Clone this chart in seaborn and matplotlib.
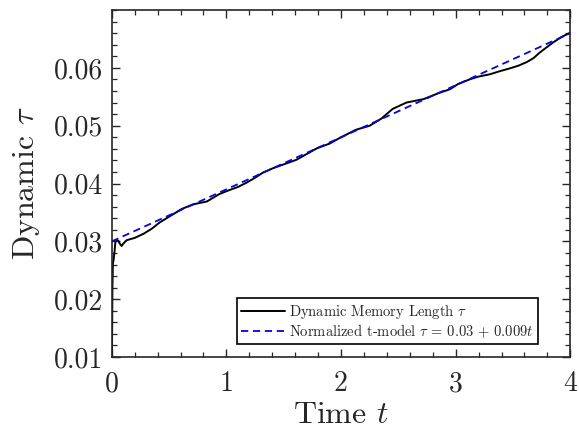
import matplotlib
matplotlib.use("Agg")
import matplotlib.pyplot as plt
import seaborn as sns
import numpy as np
from matplotlib.ticker import MultipleLocator

# Data
t_mem = [0.0, 0.006, 0.010, 0.016, 0.024, 0.032, 0.045, 0.058, 0.07, 0.087, 0.10, 0.13,
         0.20, 0.276, 0.35, 0.42, 0.52, 0.61, 0.71, 0.83, 0.94, 1.03, 1.10, 1.18,
         1.25, 1.32, 1.40, 1.47, 1.54, 1.61, 1.70, 1.79, 1.90, 1.99, 2.06, 2.13,
         2.25, 2.35, 2.45, 2.57, 2.72, 2.86, 2.95, 3.02, 3.12, 3.20, 3.30, 3.38,
         3.47, 3.55, 3.62, 3.68, 3.73, 3.79, 3.85, 3.92, 3.98, 4.0]
tau_mem = [0.005, 0.022, 0.0262, 0.0268, 0.0282, 0.0299, 0.0302, 0.0301, 0.0296, 0.0292, 0.0296, 0.0302,
           0.0306, 0.0313, 0.0322, 0.0333, 0.0345, 0.0356, 0.0364, 0.0369, 0.0382, 0.0389, 0.0394, 0.0402,
           0.0410, 0.0419, 0.0426, 0.0431, 0.0436, 0.0441, 0.0451, 0.0461, 0.0469, 0.0479, 0.0486, 0.0493,
           0.0500, 0.0512, 0.0529, 0.0540, 0.0546, 0.0557, 0.0563, 0.0572, 0.0580, 0.0585, 0.0589, 0.0594,
           0.0599, 0.0604, 0.0610, 0.0617, 0.0626, 0.0635, 0.0644, 0.0653, 0.0659, 0.0661]
t_model = [0.0, 4.0]
tau_model = [0.030, 0.066]

label_mem = r"Dynamic Memory Length $\tau$"
label_model = r"Normalized t-model $\tau\,=\,0.03\,+\,0.009t$"

sns.set_theme(style="ticks")
plt.rcParams.update({
    "font.family": "serif",
    "font.serif": ["cmr10"],
    "mathtext.fontset": "cm",
    "axes.formatter.use_mathtext": True,
    "axes.unicode_minus": False,
    "axes.linewidth": 1.2,
    "xtick.direction": "in",
    "ytick.direction": "in",
    "xtick.top": True,
    "ytick.right": True,
})

fig = plt.figure(figsize=(5.79, 4.37), dpi=100)
ax = fig.add_axes([0.193, 0.183, 0.792, 0.794])

sns.lineplot(x=t_mem, y=tau_mem, ax=ax, color="black", linewidth=1.4,
             label=label_mem, sort=False, estimator=None)
sns.lineplot(x=t_model, y=tau_model, ax=ax, color="#0000ff", linewidth=1.3,
             label=label_model, sort=False, estimator=None)
ax.lines[1].set_dashes([4.0, 2.6])

ax.set_xlim(0, 4)
ax.set_ylim(0.01, 0.07)
ax.xaxis.set_minor_locator(MultipleLocator(0.2))
ax.yaxis.set_minor_locator(MultipleLocator(0.002))
ax.set_yticks([0.01, 0.02, 0.03, 0.04, 0.05, 0.06])
ax.set_yticklabels(["0.01", "0.02", "0.03", "0.04", "0.05", "0.06"])
ax.set_xticks([0, 1, 2, 3, 4])
ax.set_xticklabels(["0", "1", "2", "3", "4"])
ax.tick_params(which="major", length=6, width=1.0, labelsize=20, colors="#262626",
               top=True, right=True, direction="in")
ax.tick_params(axis="x", which="major", pad=10)
ax.tick_params(axis="y", which="major", pad=6)
ax.tick_params(which="minor", length=3.5, width=0.9, top=True, right=True, direction="in")
for s in ax.spines.values():
    s.set_color("#262626")

ax.set_xlabel(r"Time $t$", fontsize=23, color="#262626", labelpad=3)
ax.set_ylabel(r"Dynamic $\tau$", fontsize=23, color="#262626", labelpad=9)

leg = ax.legend(loc="lower right", bbox_to_anchor=(0.93, 0.037), borderaxespad=0,
                fontsize=10.5, frameon=True, fancybox=False, framealpha=1,
                edgecolor="black", handlelength=3.0, handletextpad=0.3,
                borderpad=0.3, labelspacing=0.1)
leg.get_frame().set_linewidth(1.2)

fig.savefig("out.png", dpi=100)
